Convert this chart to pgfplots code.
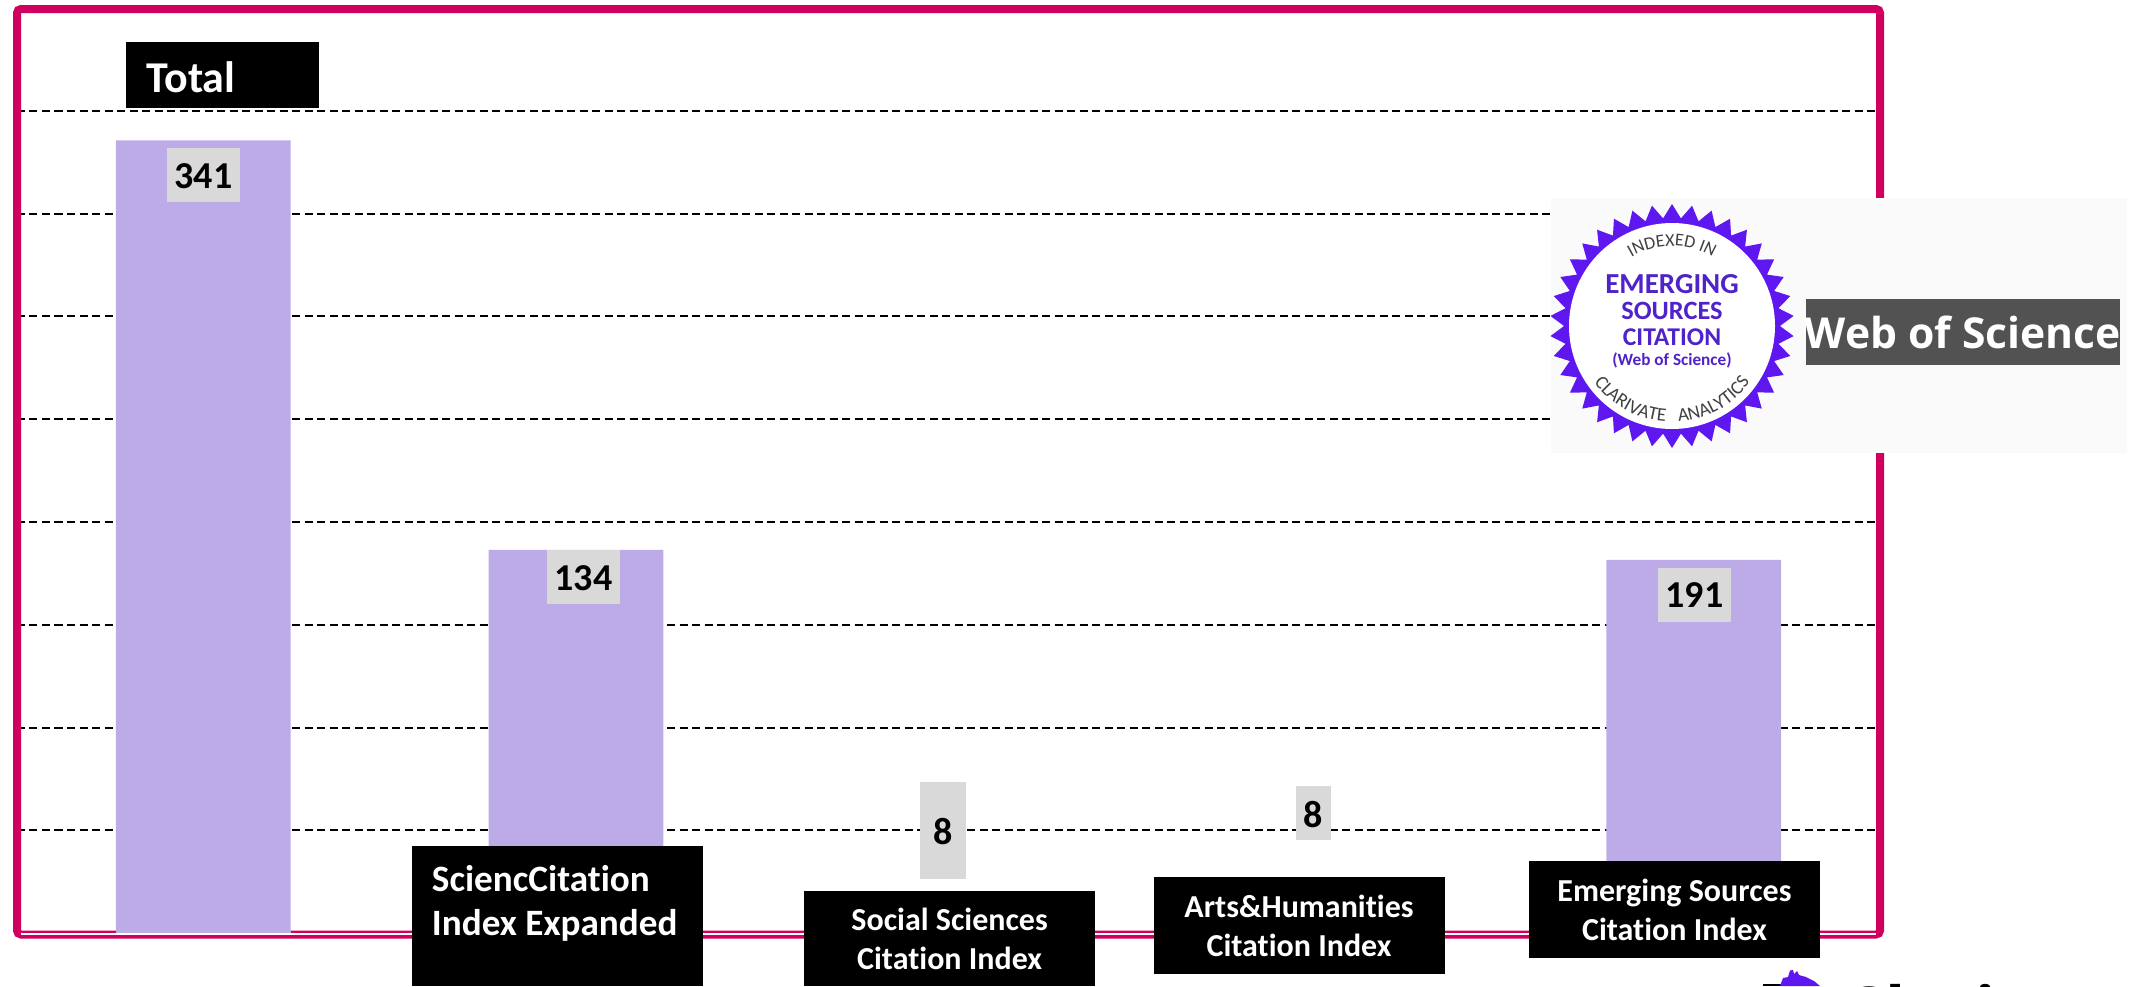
\documentclass[border=0pt]{standalone}
\usepackage{pgfplots}
\pgfplotsset{compat=1.18}
\usepackage{pgfplotstable}
\usepackage{fontspec}
\setmainfont[Ligatures=NoCommon]{Carlito}
\newfontfamily\wosfont{Open Sans}
\usetikzlibrary{shapes.geometric,decorations.text}
\definecolor{framepink}{HTML}{D0005E}
\definecolor{barpurple}{HTML}{BDABE8}
\definecolor{labelgrey}{HTML}{D9D9D9}
\definecolor{sealpurple}{HTML}{5F17F0}
\definecolor{sealtext}{HTML}{4F23C9}
\pgfplotstableread{
x h
0 385.7
1 186.4
2 8
3 8
4 181.6
}\bars
% 1 reference pixel = 0.5pt; y runs downward from the top of the picture
\tikzset{px/.style={x=0.5pt,y=-0.5pt}}
\newcommand{\blk}[4]{\fill[black] (#1,#2) rectangle (#3,#4);}
\newcommand{\gry}[4]{\fill[labelgrey] (#1,#2) rectangle (#3,#4);}
\begin{document}
\begin{tikzpicture}[px]
\path[use as bounding box] (0,0) rectangle (2141,986);
\begin{axis}[
  at={(17pt*0.5,-933pt*0.5)}, anchor=south west,
  scale only axis, width=931.5pt, height=462.4pt,
  xmin=-0.5, xmax=4.5, ymin=0, ymax=450,
  ytick={50,100,...,400}, xtick=\empty, yticklabels={},
  major tick length=0pt,
  ymajorgrids, grid style={black, line width=1pt, dash pattern=on 4pt off 2.25pt},
  axis line style={draw=none},
  clip=false,
  ybar, ybar legend,
]
\addplot[bar width=87.4pt, bar shift=0pt, fill=barpurple, draw=none] table[x=x,y=h]{\bars};
\end{axis}
% frame
\draw[framepink, line width=4pt, rounded corners=2pt] (17,934.5) -- (17,9) -- (1880,9) -- (1880,934.5) -- cycle;
\fill[white] (21,933.2) rectangle (1876,935);
\fill[barpurple] (116,930) rectangle (291,932.8);
% label boxes
\gry{167}{148}{240}{202}
\gry{547}{550}{620}{603.7}
\gry{1658}{568}{1731}{621.7}
\gry{920}{782}{966}{879}
\gry{1296}{786}{1331}{840}
\node[font=\bfseries\fontsize{19}{19}\selectfont] at (203.5,176) {341};
\node[font=\bfseries\fontsize{19}{19}\selectfont] at (583.5,578) {134};
\node[font=\bfseries\fontsize{19}{19}\selectfont] at (1694.5,595) {191};
\node[font=\bfseries\fontsize{19}{19}\selectfont] at (943.4,832) {8};
\node[font=\bfseries\fontsize{19}{19}\selectfont] at (1313.6,815) {8};
% black category boxes
\blk{126}{42}{319}{108}
\blk{412}{846}{703}{986}
\blk{804}{891}{1095}{986}
\blk{1154}{877}{1445}{973.7}
\blk{1529}{861}{1820}{957.5}
\node[white,anchor=base west,font=\bfseries\fontsize{22}{22}\selectfont,inner sep=0pt] at (146,92) {Total};
\node[white,anchor=base west,font=\bfseries\fontsize{18.6}{18.6}\selectfont,inner sep=0pt] at (431.5,891) {SciencCitation};
\node[white,anchor=base west,font=\bfseries\fontsize{18.6}{18.6}\selectfont,inner sep=0pt] at (431.5,935) {Index Expanded};
\node[white,anchor=base,font=\bfseries\fontsize{16}{16}\selectfont,inner sep=0pt] at (949.6,930.7) {Social Sciences};
\node[white,anchor=base,font=\bfseries\fontsize{16}{16}\selectfont,inner sep=0pt] at (949.6,969) {Citation Index};
\node[white,anchor=base,font=\bfseries\fontsize{16}{16}\selectfont,inner sep=0pt] at (1299,917.5) {Arts\&Humanities};
\node[white,anchor=base,font=\bfseries\fontsize{16}{16}\selectfont,inner sep=0pt] at (1299,956.5) {Citation Index};
\node[white,anchor=base,font=\bfseries\fontsize{16}{16}\selectfont,inner sep=0pt] at (1674.5,901) {Emerging Sources};
\node[white,anchor=base,font=\bfseries\fontsize{16}{16}\selectfont,inner sep=0pt] at (1674.5,940) {Citation Index};
% Web of Science badge
\fill[black!2!white] (1551,198) rectangle (2127,452.7);
\fill[black!68!white] (1806,299) rectangle (2120,365);
\node[white,anchor=center,font=\wosfont\bfseries\fontsize{21.3}{21.3}\selectfont,inner sep=0pt] at (1963,332) {Web of Science};
\node[star, star points=38, star point ratio=1.13, fill=sealpurple, draw=none, minimum size=122pt, inner sep=0pt] at (1672,326) {};
\fill[white] (1672,326) circle (51.5pt);
\node[sealtext,font=\bfseries\fontsize{14.5}{14.5}\selectfont,inner sep=0pt] at (1672,284) {EMERGING};
\node[sealtext,font=\fontsize{13.2}{13.2}\selectfont\bfseries,inner sep=0pt] at (1672,311) {SOURCES};
\node[sealtext,font=\fontsize{12.8}{12.8}\selectfont\bfseries,inner sep=0pt] at (1672,337) {CITATION};
\node[sealtext,font=\fontsize{8.6}{8.6}\selectfont\bfseries,inner sep=0pt] at (1672,360) {(Web of Science)};
\path[decorate,decoration={text along path,text align=center,text={|\fontsize{9}{9}\selectfont\color{black!75}|INDEXED IN}}]
  (1672-80,326) arc[start angle=180,end angle=0,radius=40pt];
\path[decorate,decoration={text along path,text align=center,text={|\fontsize{9.5}{9.5}\selectfont\color{black!75}|CLARIVATE{ }{ }{ }ANALYTICS}}]
  (1672-96,326) arc[start angle=180,end angle=360,radius=48pt];
% top edge of the logo that the page cuts off
\begin{scope}
\clip (1700,960) rectangle (2141,986);
\fill[black] (1763,984) rectangle (1785,986);
\fill[sealpurple] (1780,986) -- (1783,978) -- (1788,977) -- (1790,970.5) -- (1793,970) -- (1794,974) -- (1797,971) -- (1799,975) -- (1806,977) -- (1814,981) -- (1820,986) -- cycle;
\node[black,anchor=base west,inner sep=0pt,font=\wosfont\bfseries\fontsize{33}{33}\selectfont] at (1843,1034) {Clarivate};
\end{scope}
\end{tikzpicture}
\end{document}
